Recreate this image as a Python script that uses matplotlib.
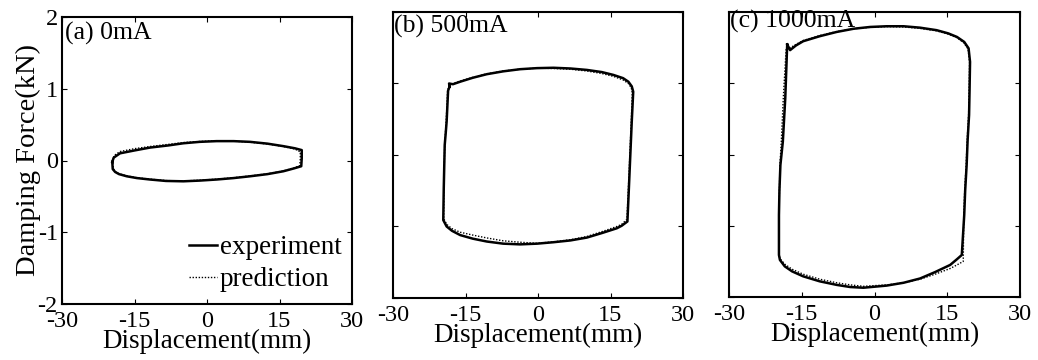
import matplotlib
matplotlib.use('agg')
import matplotlib.pyplot as plt
from matplotlib import rcParams

rcParams['font.family'] = 'Liberation Serif'
rcParams['font.size'] = 19.5
rcParams['axes.unicode_minus'] = False
rcParams['axes.linewidth'] = 1.5

# values (displacement in mm, force in kN)
panel_titles = ['(a) 0mA', '(b) 500mA', '(c) 1000mA']
x_ticks = [-30, -15, 0, 15, 30]
y_ticks = [-2, -1, 0, 1, 2]

# (a) 0mA
exp_a_x = [-19.6, -19.3, -18.0, -15.0, -11.8, -8.0, -4.9, -1.5, 2.0, 5.5, 8.9, 12.5, 15.8,
           18.2, 19.6, 19.6, 19.5, 18.0, 15.8, 12.5, 8.9, 5.5, 2.0, -1.5, -4.9, -8.5, -11.8,
           -14.5, -16.6, -18.2, -19.0, -19.5, -19.6]
exp_a_y = [-0.02, 0.04, 0.1, 0.14, 0.18, 0.21, 0.24, 0.26, 0.27, 0.27, 0.26, 0.235, 0.2,
           0.17, 0.145, 0.03, -0.08, -0.11, -0.15, -0.19, -0.22, -0.245, -0.265, -0.28, -0.29,
           -0.285, -0.265, -0.245, -0.22, -0.19, -0.16, -0.12, -0.02]
pred_a_x = [-19.5, -19.2, -18.0, -15.0, -11.8, -8.0, -4.9, -1.5, 2.0, 5.5, 8.9, 12.5, 15.8,
            18.2, 19.3, 19.3, 19.2, 18.0, 15.8, 12.5, 8.9, 5.5, 2.0, -1.5, -4.9, -8.5, -11.8,
            -14.5, -16.6, -18.2, -19.0, -19.4, -19.5]
pred_a_y = [0.0, 0.07, 0.125, 0.165, 0.195, 0.225, 0.25, 0.265, 0.275, 0.27, 0.255, 0.23, 0.195,
            0.16, 0.12, 0.02, -0.07, -0.105, -0.145, -0.185, -0.215, -0.24, -0.26, -0.275, -0.285,
            -0.28, -0.26, -0.24, -0.215, -0.185, -0.155, -0.11, 0.0]

# (b) 500mA
exp_b_x = [-18.3, -18.4, -17.6, -16.1, -13.5, -10.6, -7.2, -3.7, -0.2, 3.2, 6.7, 10.1, 13.2,
           15.6, 17.6, 18.7, 19.4, 19.7, 19.4, 19.1, 18.8, 18.5, 17.3, 16.3, 13.3, 10.1, 6.7,
           3.2, -0.2, -3.7, -7.2, -10.6, -13.5, -16.1, -17.8, -18.9, -19.6, -19.5, -19.3, -19.1,
           -18.9, -18.6, -18.3]
exp_b_y = [0.955, 1.0, 0.99, 1.025, 1.08, 1.13, 1.17, 1.2, 1.215, 1.22, 1.21, 1.19, 1.16,
           1.12, 1.075, 1.025, 0.96, 0.885, 0.47, 0.0, -0.47, -0.93, -0.99, -1.025, -1.09,
           -1.155, -1.195, -1.22, -1.24, -1.25, -1.24, -1.21, -1.17, -1.12, -1.06, -1.0, -0.91,
           -0.47, 0.14, 0.3, 0.47, 0.9, 0.955]
pred_b_x = [-18.4, -17.6, -16.1, -13.5, -10.6, -7.2, -3.7, -0.2, 3.2, 6.7, 10.1, 13.2,
            15.6, 17.6, 18.7, 19.3, 19.5, 19.3, 19.0, 18.7, 18.4, 17.3, 16.3, 13.3, 10.1, 6.7,
            3.2, -0.2, -3.7, -7.2, -10.6, -13.5, -16.1, -17.8, -18.9, -19.5, -19.5, -19.3,
            -19.0, -18.7, -18.4]
pred_b_y = [0.97, 1.0, 1.035, 1.085, 1.135, 1.175, 1.2, 1.215, 1.21, 1.2, 1.175, 1.14,
            1.1, 1.05, 1.0, 0.94, 0.87, 0.47, 0.0, -0.47, -0.9, -0.97, -1.0, -1.07,
            -1.14, -1.185, -1.215, -1.235, -1.22, -1.2, -1.16, -1.12, -1.08, -1.03, -0.97, -0.89,
            -0.47, 0.14, 0.47, 0.9, 0.97]

# (c) 1000mA
exp_c_x = [-18.0, -17.4, -16.2, -14.7, -11.3, -7.8, -4.3, -0.9, 2.5, 6.0, 9.4, 12.8, 15.2,
           17.0, 18.5, 19.4, 19.7, 19.6, 19.5, 19.2, 19.0, 18.7, 18.5, 18.0, 17.0, 15.6, 12.5,
           9.4, 6.0, 2.5, -2.3, -5.0, -7.8, -11.3, -14.7, -17.0, -18.5, -19.5, -19.7, -19.7,
           -19.6, -19.4, -18.9, -18.4, -18.0]
exp_c_y = [1.545, 1.465, 1.53, 1.59, 1.66, 1.72, 1.765, 1.79, 1.80, 1.80, 1.78, 1.745, 1.70,
           1.65, 1.58, 1.49, 1.3, 0.9, 0.555, 0.2, -0.147, -0.5, -0.85, -1.41, -1.47, -1.55,
           -1.65, -1.74, -1.80, -1.84, -1.87, -1.86, -1.83, -1.78, -1.71, -1.64, -1.57, -1.48,
           -1.41, -0.85, -0.5, -0.147, 0.18, 0.79, 1.545]
pred_c_x = [-18.2, -17.3, -16.2, -14.7, -11.3, -7.8, -4.3, -0.9, 2.5, 6.0, 9.4, 12.8, 15.2,
            17.0, 18.4, 19.3, 19.6, 19.5, 19.4, 19.1, 18.9, 18.6, 18.4, 18.3, 17.0, 15.6, 12.5,
            9.4, 6.0, 2.5, -2.3, -5.0, -7.8, -11.3, -14.7, -17.0, -18.5, -19.5, -19.7, -19.7,
            -19.6, -19.5, -19.2, -18.8, -18.2]
pred_c_y = [1.5, 1.5, 1.545, 1.6, 1.67, 1.725, 1.765, 1.785, 1.795, 1.79, 1.77, 1.735, 1.69,
            1.64, 1.57, 1.48, 1.3, 0.9, 0.555, 0.2, -0.147, -0.5, -0.85, -1.5, -1.55, -1.6,
            -1.68, -1.75, -1.8, -1.83, -1.85, -1.83, -1.8, -1.75, -1.68, -1.61, -1.54, -1.46,
            -1.4, -0.85, -0.5, -0.147, 0.2, 0.8, 1.5]

exp_x = [exp_a_x, exp_b_x, exp_c_x]
exp_y = [exp_a_y, exp_b_y, exp_c_y]
pred_x = [pred_a_x, pred_b_x, pred_c_x]
pred_y = [pred_a_y, pred_b_y, pred_c_y]

fig = plt.figure(figsize=(10.38, 3.6), dpi=100)
W, H = 1038.0, 360.0
# axes boxes in pixels: left, top, right, bottom
boxes = [(62, 17, 352, 304), (393, 12, 683, 298), (729, 12, 1020, 297)]
title_y = [0.92, 0.927, 0.947]

for i, (l, t, r, b) in enumerate(boxes):
    ax = fig.add_axes([l / W, 1 - b / H, (r - l) / W, (b - t) / H])
    ax.plot(exp_x[i], exp_y[i], color='black', lw=1.8, label='experiment')
    ax.plot(pred_x[i], pred_y[i], color='black', lw=1.0, ls=(0, (1, 1.2)), label='prediction')
    ax.set_xlim(-30, 30)
    ax.set_ylim(-2, 2)
    ax.set_xticks(x_ticks)
    ax.set_yticks(y_ticks)
    ax.tick_params(direction='in', top=True, right=True, length=3.6, width=0.8,
                   labelsize=17.5)
    ax.tick_params(axis='x', pad=5)
    ax.tick_params(axis='y', pad=3)
    ax.set_xlabel('Displacement(mm)', labelpad=-2)
    ax.text(0.01 if i == 0 else 0.005, title_y[i], panel_titles[i], fontsize=18.5,
            transform=ax.transAxes, va='baseline', ha='left')
    if i == 0:
        ax.set_ylabel('Damping Force(kN)', fontsize=20.5, va='center')
        ax.yaxis.set_label_coords(-34 / (r - l), 0.5)
        ax.legend(loc='lower right', bbox_to_anchor=(1.02, -0.015), frameon=False,
                  handlelength=1.05, handletextpad=0.1, labelspacing=0.25,
                  borderaxespad=0.2)
    else:
        ax.set_yticklabels([])

fig.savefig('out.png', dpi=100)
